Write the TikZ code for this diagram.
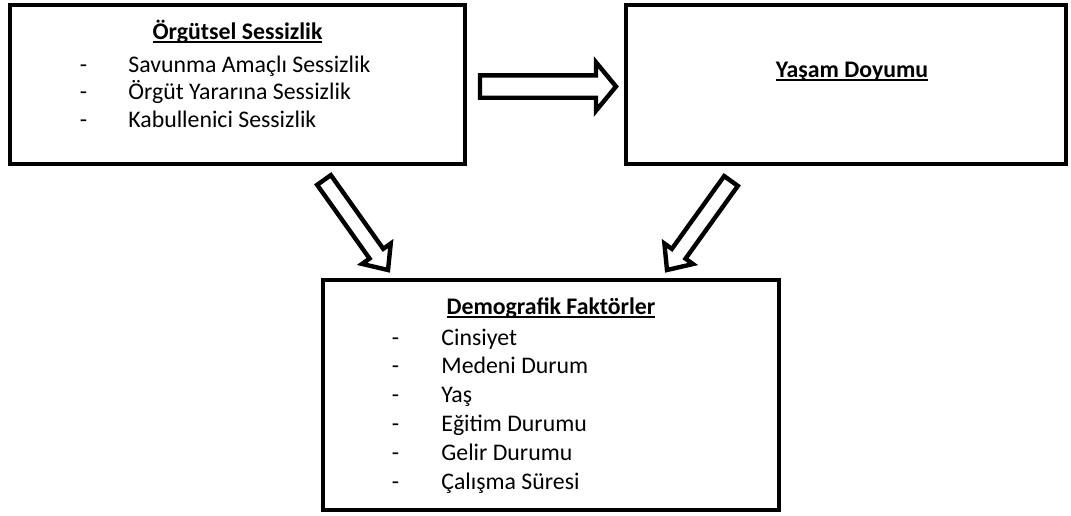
\documentclass[tikz,border=0pt]{standalone}
\usepackage{fontspec}
\setmainfont{Carlito}
\usetikzlibrary{calc}

\newcommand{\ulhead}[1]{\setbox0\hbox{\bfseries #1}\rlap{\rule[-1.8pt]{\wd0}{0.9pt}}\box0}
% hollow block arrow: from, to, body half width, head half width, head length
\newcommand{\blockarrow}[5]{%
  \coordinate (hb) at ($(#2)!#5!(#1)$);
  \draw[barrow] ($(#1)!#3!90:(#2)$) -- ($(hb)!#3!90:(#2)$) -- ($(hb)!#4!90:(#2)$) -- (#2)
    -- ($(hb)!#4!-90:(#2)$) -- ($(hb)!#3!-90:(#2)$) -- ($(#1)!#3!-90:(#2)$) -- cycle;}

\begin{document}
\begin{tikzpicture}[x=0.5pt,y=-0.5pt,
    font=\fontsize{11.9pt}{14pt}\selectfont,
    box/.style={draw,line width=2.2pt,inner sep=0pt},
    head/.style={anchor=base,inner sep=0pt},
    dashmark/.style={anchor=base,inner sep=0pt},
    item/.style={anchor=base west,inner sep=0pt},
    barrow/.style={draw,fill=white,line width=2.2pt,line join=miter}]
\useasboundingbox (0,0) rectangle (1071,515);

\node[box,minimum width=227.5pt,minimum height=79.5pt] (org) at (237.5,84.5) {};
\node[box,minimum width=220pt,minimum height=79.5pt] (yd) at (846,84.5) {};
\node[box,minimum width=228pt,minimum height=115pt] (dem) at (551,395) {};

\node[head] (org-h) at (237.5,39) {\ulhead{Örgütsel Sessizlik}};
\foreach \lbl [count=\i] in {Savunma Amaçlı Sessizlik,Örgüt Yararına Sessizlik,Kabullenici Sessizlik}{
  \node[dashmark] (org-d\i) at (83.5,{72+27.8*(\i-1)}) {-};
  \node[item] (org-\i) at (128,{72+27.8*(\i-1)}) {\lbl};
}

\node[head] (yd-h) at (852,77) {\ulhead{Yaşam Doyumu}};

\node[head] (dem-h) at (551,314) {\ulhead{Demografik Faktörler}};
\foreach \lbl [count=\i] in {Cinsiyet,Medeni Durum,Yaş,Eğitim Durumu,Gelir Durumu,Çalışma Süresi}{
  \node[dashmark] (dem-d\i) at (395.5,{345+28.8*(\i-1)}) {-};
  \node[item] (dem-\i) at (441,{345+28.8*(\i-1)}) {\lbl};
}

\coordinate (a1s) at (480,86.5);
\coordinate (a1e) at (616,86.5);
\coordinate (a2s) at (324,180);
\coordinate (a2e) at (388,270);
\coordinate (a3s) at (731,181);
\coordinate (a3e) at (667,270);
\blockarrow{a1s}{a1e}{5.6pt}{12.1pt}{10pt}
\blockarrow{a2s}{a2e}{4.2pt}{8.8pt}{10pt}
\blockarrow{a3s}{a3e}{4.2pt}{8.8pt}{10pt}
\end{tikzpicture}
\end{document}
